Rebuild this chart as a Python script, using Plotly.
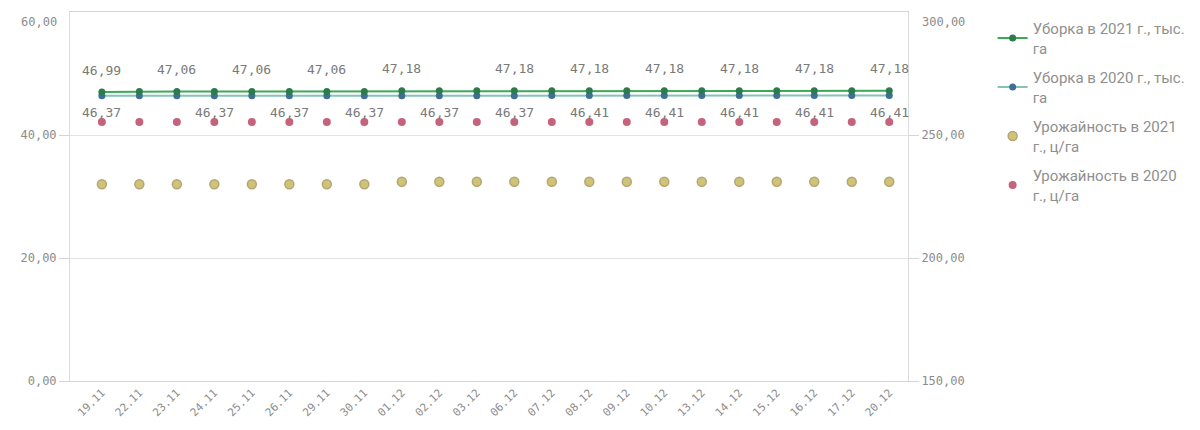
import plotly.graph_objects as go

dates = ["19.11", "22.11", "23.11", "24.11", "25.11", "26.11", "29.11", "30.11",
         "01.12", "02.12", "03.12", "06.12", "07.12", "08.12", "09.12", "10.12",
         "13.12", "14.12", "15.12", "16.12", "17.12", "20.12"]

harvest_2021 = [46.99, 47.06, 47.06, 47.06, 47.06, 47.06, 47.06, 47.06,
                47.18, 47.18, 47.18, 47.18, 47.18, 47.18, 47.18, 47.18,
                47.18, 47.18, 47.18, 47.18, 47.18, 47.18]
harvest_2020 = [46.37, 46.37, 46.37, 46.37, 46.37, 46.37, 46.37, 46.37,
                46.37, 46.37, 46.37, 46.37, 46.41, 46.41, 46.41, 46.41,
                46.41, 46.41, 46.41, 46.41, 46.41, 46.41]
yield_2021 = [230.0, 230.0, 230.0, 230.0, 230.0, 230.0, 230.0, 230.0,
              231.0, 231.0, 231.0, 231.0, 231.0, 231.0, 231.0, 231.0,
              231.0, 231.0, 231.0, 231.0, 231.0, 231.0]
yield_2020 = [255.3] * 22

label_idx_2021 = [0, 2, 4, 6, 8, 11, 13, 15, 17, 19, 21]
label_idx_2020 = [0, 3, 5, 7, 9, 11, 13, 15, 17, 19, 21]

series_names = ["Уборка в 2021 г., тыс.<br>га",
                "Уборка в 2020 г., тыс.<br>га",
                "Урожайность в 2021<br>г., ц/га",
                "Урожайность в 2020<br>г., ц/га"]

left_ticks = [0, 20, 40, 60]
right_ticks = [150, 200, 250, 300]

MONO = "DejaVu Sans Mono"
GREY = "#8c8c8c"
GRID = "#e3e3e3"


def fmt(v):
    return f"{v:.2f}".replace(".", ",")


fig = go.Figure()

fig.add_trace(go.Scatter(
    x=dates, y=yield_2021, yaxis="y2", mode="markers", name=series_names[2],
    legendrank=3, legendgroup="c",
    marker=dict(size=9, color="#cfc375", line=dict(color="#b5a577", width=1.5)),
))
fig.add_trace(go.Scatter(
    x=dates, y=yield_2020, yaxis="y2", mode="markers", name=series_names[3],
    legendrank=4, legendgroup="d",
    marker=dict(size=8, color="#c6637c", line=dict(color="#c6637c", width=0)),
))
fig.add_trace(go.Scatter(
    x=dates, y=harvest_2020, mode="lines+markers", name=series_names[1],
    legendrank=2, legendgroup="b",
    line=dict(color="#86c2b6", width=2),
    marker=dict(size=7, color="#3f6f95", symbol="circle"),
))
fig.add_trace(go.Scatter(
    x=dates, y=harvest_2021, mode="lines+markers", name=series_names[0],
    legendrank=1, legendgroup="a",
    line=dict(color="#3da858", width=2),
    marker=dict(size=7, color="#2b7b4c", symbol="circle"),
))

annotations = []
for i in label_idx_2021:
    annotations.append(dict(
        x=i, y=harvest_2021[i], xref="x", yref="y",
        text=fmt(harvest_2021[i]), showarrow=False,
        yshift=22, font=dict(family=MONO, size=13, color="#7a7a7a")))
for i in label_idx_2020:
    annotations.append(dict(
        x=i, y=harvest_2020[i], xref="x", yref="y",
        text=fmt(harvest_2020[i]), showarrow=False,
        yshift=-17, font=dict(family=MONO, size=13, color="#7a7a7a")))

# top tick labels sit just below the top edge, as in the original
annotations.append(dict(
    x=0, y=left_ticks[-1], xref="paper", yref="y", xanchor="right",
    text=fmt(left_ticks[-1]), showarrow=False, xshift=-11, yshift=-10,
    font=dict(family=MONO, size=12, color=GREY)))
annotations.append(dict(
    x=1, y=right_ticks[-1], xref="paper", yref="y2", xanchor="left",
    text=fmt(right_ticks[-1]), showarrow=False, xshift=12, yshift=-10,
    font=dict(family=MONO, size=12, color=GREY)))

# page body has an 8px default margin: figure is sized/margined to compensate
fig.update_layout(
    width=1192, height=422,
    margin=dict(l=62, r=292, t=4, b=49),
    paper_bgcolor="white", plot_bgcolor="white",
    separators=", ",
    showlegend=True,
    legend=dict(x=1.101, y=1.0, xanchor="left", yanchor="top",
                font=dict(family="Roboto", size=15, color="#8f8f8f"),
                tracegroupgap=7, itemwidth=30, bgcolor="rgba(0,0,0,0)"),
    annotations=annotations,
    xaxis=dict(type="category", range=[-0.85, 21.5], tickangle=-45,
               automargin=False,
               showgrid=False, showline=True, linecolor="#d4d4d4", mirror=True,
               ticks="", tickfont=dict(family=MONO, size=11, color=GREY)),
    yaxis=dict(range=[0, 60], tickvals=left_ticks[:-1], tickformat=".2f",
               automargin=False,
               showgrid=True, gridcolor=GRID, zeroline=False,
               showline=True, linecolor="#dcdcdc", mirror=False,
               ticks="outside", ticklen=10, tickcolor="#d4d4d4",
               tickfont=dict(family=MONO, size=12, color=GREY)),
    yaxis2=dict(range=[150, 300], tickvals=right_ticks[:-1], tickformat=".2f",
                automargin=False,
                overlaying="y", side="right", showgrid=False, zeroline=False,
                showline=True, linecolor="#dcdcdc",
                ticks="outside", ticklen=10, tickcolor="#d4d4d4",
                tickfont=dict(family=MONO, size=12, color=GREY)),
)

fig.write_html("out.html")
